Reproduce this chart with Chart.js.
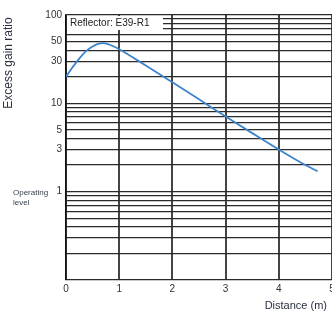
<!DOCTYPE html>
<html><head><meta charset="utf-8">
<script src="https://cdn.jsdelivr.net/npm/chart.js@4/dist/chart.umd.min.js"></script>
<style>html,body{margin:0;padding:0;background:#fff;overflow:hidden}#wrap{width:340px;height:316px}</style>
</head><body><div id="wrap"><canvas id="c" width="340" height="316"></canvas></div>
<script>
const distance  = [0, 0.1, 0.2, 0.3, 0.4, 0.5, 0.6, 0.7, 0.8, 0.9, 1.0, 1.5, 2.0, 2.5, 3.0, 3.5, 4.0, 4.5, 4.73];
const gainRatio = [20, 24.5, 29.5, 35, 40, 44, 47, 48, 46.5, 44, 41, 26.8, 17.3, 11.1, 7.1, 4.6, 3.0, 2.0, 1.7];
const yGridValues = [0.1,0.2,0.3,0.4,0.5,0.6,0.7,0.8,0.9,1,2,3,4,5,6,7,8,9,10,20,30,40,50,60,70,80,90,100];
const yTickLabels = [1, 3, 5, 10, 30, 50, 100];
const xTickLabels = [0, 1, 2, 3, 4, 5];
const seriesLabel = 'Reflector: E39-R1';

const textPlugin = {
  id: 'texts',
  afterDatasetsDraw(chart) {
    const ctx = chart.ctx, a = chart.chartArea;
    ctx.save();
    ctx.fillStyle = '#fff';
    ctx.fillRect(a.left + 1, a.top + 1, 96, 14);
    ctx.fillStyle = '#222';
    ctx.font = '10px "Liberation Sans", Arial, sans-serif';
    ctx.textBaseline = 'middle';
    ctx.textAlign = 'left';
    ctx.fillText(seriesLabel, a.left + 4, a.top + 8);
    ctx.fillStyle = '#3a4250';
    ctx.font = '8px "Liberation Sans", Arial, sans-serif';
    const y1 = chart.scales.y.getPixelForValue(1);
    ctx.fillText('Operating', 13, y1 + 1);
    ctx.fillText('level', 13, y1 + 11);
    ctx.fillStyle = '#2a3040';
    ctx.font = '11px "Liberation Sans", Arial, sans-serif';
    ctx.textAlign = 'right';
    ctx.fillText('Distance (m)', 327, 306);
    ctx.translate(9, 63);
    ctx.rotate(-Math.PI / 2);
    ctx.textAlign = 'center';
    ctx.font = '12px "Liberation Sans", Arial, sans-serif';
    ctx.fillText('Excess gain ratio', 0, 0);
    ctx.restore();
  }
};

new Chart(document.getElementById('c'), {
  type: 'line',
  data: {
    datasets: [{
      label: seriesLabel,
      data: distance.map((d, i) => ({ x: d, y: gainRatio[i] })),
      borderColor: '#3d84cc',
      borderWidth: 1.8,
      pointRadius: 0,
      cubicInterpolationMode: 'monotone',
      fill: false
    }]
  },
  options: {
    responsive: false,
    animation: false,
    layout: { padding: { top: 15, right: 8, left: 0, bottom: 0 } },
    plugins: { legend: { display: false }, tooltip: { enabled: false } },
    scales: {
      x: {
        type: 'linear', min: 0, max: 5,
        afterBuildTicks: s => { s.ticks = xTickLabels.map(v => ({ value: v })); },
        afterFit: s => { s.height = 36; },
        ticks: { color: '#333', font: { size: 10, family: '"Liberation Sans", Arial, sans-serif' }, padding: 3, maxRotation: 0, autoSkip: false },
        grid: { color: '#444', lineWidth: 2, drawTicks: false },
        border: { display: false }
      },
      y: {
        type: 'logarithmic', min: 0.1, max: 100,
        afterBuildTicks: s => { s.ticks = yGridValues.map(v => ({ value: v })); },
        afterFit: s => { s.width = 66; },
        ticks: {
          autoSkip: false,
          color: '#333',
          font: { size: 10, family: '"Liberation Sans", Arial, sans-serif' },
          padding: 4,
          callback: v => yTickLabels.includes(v) ? String(v) : ''
        },
        grid: { color: '#2a2a2a', lineWidth: 1.2, drawTicks: false },
        border: { display: true, color: '#111', width: 1.5 }
      }
    }
  },
  plugins: [textPlugin]
});
</script>
</body></html>
